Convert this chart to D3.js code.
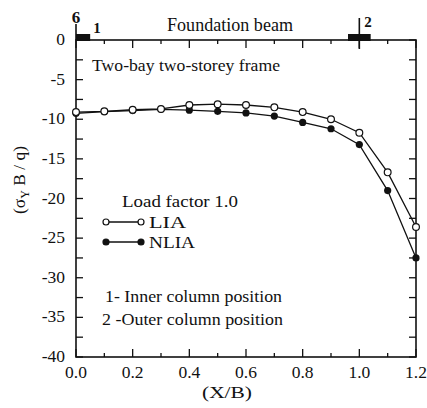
<!DOCTYPE html>
<html>
<head>
<meta charset="utf-8">
<script src="https://cdn.jsdelivr.net/npm/d3@7"></script>
<style>
  html, body { margin: 0; padding: 0; background: #fff; }
  svg { display: block; }
</style>
</head>
<body>
<svg id="chart" width="427" height="408"></svg>
<script>
// Normalised distance along the beam (X/B)
const xPositions = [0.0, 0.1, 0.2, 0.3, 0.4, 0.5, 0.6, 0.7, 0.8, 0.9, 1.0, 1.1, 1.2];
// Contact stress (σY B / q), linear interactive analysis
const liaValues  = [-9.1, -9.0, -8.8, -8.7, -8.2, -8.1, -8.2, -8.5, -9.1, -10.0, -11.7, -16.7, -23.6];
// Contact stress (σY B / q), non-linear interactive analysis
const nliaValues = [-9.25, -9.05, -8.9, -8.75, -8.85, -9.0, -9.2, -9.6, -10.4, -11.2, -13.2, -19.0, -27.5];
// Axis tick labels
const xTickValues = [0.0, 0.2, 0.4, 0.6, 0.8, 1.0, 1.2];
const yTickValues = [0, -5, -10, -15, -20, -25, -30, -35, -40];
// Column positions along the foundation beam
const columnPositions = [0.0, 1.0];
const columnLabels = ["1", "2"];

const svg = d3.select("#chart")
  .attr("font-family", "'Liberation Serif', 'Times New Roman', Times, serif");
const plotLeft = 76, plotRight = 416, plotTop = 40, plotBottom = 357;

const x = d3.scaleLinear().domain([0, 1.2]).range([plotLeft, plotRight]);
const y = d3.scaleLinear().domain([-40, 0]).range([plotBottom, plotTop]);

const ink = "#111";
const fontSize = 17.5;

// plain text helper; optional width stretches the glyphs to fit
function label(xp, yp, str, size, width, anchor) {
  const t = svg.append("text")
    .attr("x", xp).attr("y", yp)
    .attr("font-size", size).attr("fill", ink)
    .attr("text-anchor", anchor || "start")
    .text(str);
  if (width) t.attr("textLength", width).attr("lengthAdjust", "spacingAndGlyphs");
  return t;
}

// Frame
svg.append("rect")
  .attr("x", plotLeft).attr("y", plotTop)
  .attr("width", plotRight - plotLeft).attr("height", plotBottom - plotTop)
  .attr("fill", "none").attr("stroke", ink).attr("stroke-width", 1.6);
// left axis runs a little above the frame
svg.append("line")
  .attr("x1", plotLeft).attr("x2", plotLeft).attr("y1", 24).attr("y2", plotTop)
  .attr("stroke", ink).attr("stroke-width", 1.6);

// Ticks (inward) on all four sides
const xMinor = d3.range(0, 1.2001, 0.1);
const yMinor = d3.range(-40, 0.001, 2.5);
const tickG = svg.append("g").attr("stroke", ink).attr("stroke-width", 1.3);
xMinor.forEach((v, i) => {
  const len = (i % 2 === 0) ? 8 : 4;
  tickG.append("line").attr("x1", x(v)).attr("x2", x(v)).attr("y1", plotBottom).attr("y2", plotBottom - len);
  tickG.append("line").attr("x1", x(v)).attr("x2", x(v)).attr("y1", plotTop).attr("y2", plotTop + len);
});
yMinor.forEach(v => {
  tickG.append("line").attr("x1", plotLeft).attr("x2", plotLeft + 7).attr("y1", y(v)).attr("y2", y(v));
  tickG.append("line").attr("x1", plotRight).attr("x2", plotRight - 7).attr("y1", y(v)).attr("y2", y(v));
});

// Tick labels
svg.append("g").selectAll("text").data(xTickValues).join("text")
  .attr("x", d => x(d)).attr("y", plotBottom + 21)
  .attr("text-anchor", "middle").attr("font-size", fontSize).attr("fill", ink)
  .text(d => d3.format(".1f")(d));
svg.append("g").selectAll("text").data(yTickValues).join("text")
  .attr("x", plotLeft - 11).attr("y", d => y(d) + 5)
  .attr("text-anchor", "end").attr("font-size", fontSize).attr("fill", ink)
  .text(d => d === 0 ? "0" : "-" + Math.abs(d));

// Axis titles
label(227, 398, "(X/B)", fontSize, 50, "middle");
const yTitle = svg.append("text")
  .attr("transform", "translate(25,180) rotate(-90)")
  .attr("text-anchor", "middle").attr("font-size", fontSize).attr("fill", ink);
yTitle.append("tspan").text("(σ");
yTitle.append("tspan").attr("font-size", 12).attr("dy", 4).text("Y");
yTitle.append("tspan").attr("dy", -4).text(" B / q)");

// Foundation beam and column markers
label(230, 31, "Foundation beam", 18, 126, "middle");
svg.append("text").attr("x", x(0)).attr("y", 23)
  .attr("text-anchor", "middle").attr("font-size", 17).attr("font-weight", "bold").attr("fill", ink).text("6");
// inner column (at the beam edge) and outer column
svg.append("rect")
  .attr("x", x(columnPositions[0])).attr("y", 34)
  .attr("width", x(0.05) - x(0)).attr("height", 7).attr("fill", ink);
svg.append("rect")
  .attr("x", x(columnPositions[1] - 0.04)).attr("y", 34)
  .attr("width", x(0.08) - x(0)).attr("height", 7).attr("fill", ink);
svg.append("line")
  .attr("x1", x(columnPositions[1])).attr("x2", x(columnPositions[1]))
  .attr("y1", 18).attr("y2", 49).attr("stroke", ink).attr("stroke-width", 1.6);
svg.append("text").attr("x", 97).attr("y", 33)
  .attr("text-anchor", "middle").attr("font-size", 15).attr("font-weight", "bold").attr("fill", ink).text(columnLabels[0]);
svg.append("text").attr("x", 368).attr("y", 27)
  .attr("text-anchor", "middle").attr("font-size", 15).attr("font-weight", "bold").attr("fill", ink).text(columnLabels[1]);

// Captions
label(92, 71, "Two-bay two-storey frame", 17.5, 188);
label(105, 302, "1- Inner column position", 17, 177);
label(102, 325, "2 -Outer column position", 17, 181);

// Series
const line = d3.line().x(d => x(d[0])).y(d => y(d[1]));
const lia = xPositions.map((v, i) => [v, liaValues[i]]);
const nlia = xPositions.map((v, i) => [v, nliaValues[i]]);

svg.append("path").datum(lia).attr("d", line)
  .attr("fill", "none").attr("stroke", ink).attr("stroke-width", 1.3);
svg.append("path").datum(nlia).attr("d", line)
  .attr("fill", "none").attr("stroke", ink).attr("stroke-width", 1.3);

svg.append("g").selectAll("circle").data(nlia).join("circle")
  .attr("cx", d => x(d[0])).attr("cy", d => y(d[1])).attr("r", 3.6)
  .attr("fill", ink);
svg.append("g").selectAll("circle").data(lia).join("circle")
  .attr("cx", d => x(d[0])).attr("cy", d => y(d[1])).attr("r", 3.4)
  .attr("fill", "#fff").attr("stroke", ink).attr("stroke-width", 1.2);

// Legend
label(122, 207, "Load factor 1.0", 17, 116);
const legendRows = [
  { name: "LIA", y: 222, fill: "#fff", width: 37 },
  { name: "NLIA", y: 242, fill: ink, width: 46 }
];
legendRows.forEach(r => {
  svg.append("line").attr("x1", 106).attr("x2", 141).attr("y1", r.y).attr("y2", r.y)
    .attr("stroke", ink).attr("stroke-width", 1.3);
  [106, 141].forEach(cx => svg.append("circle").attr("cx", cx).attr("cy", r.y).attr("r", 3)
    .attr("fill", r.fill).attr("stroke", ink).attr("stroke-width", 1.2));
  label(149, r.y + 6, r.name, 17.5, r.width);
});
</script>
</body>
</html>
